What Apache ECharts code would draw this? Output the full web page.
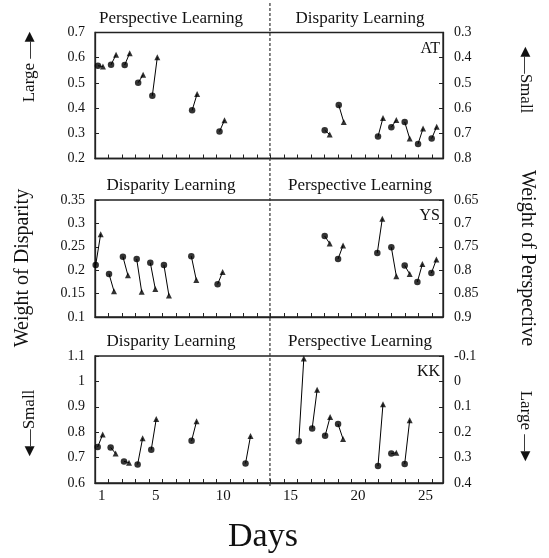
<!DOCTYPE html>
<html><head><meta charset="utf-8">
<script src="https://cdn.jsdelivr.net/npm/echarts@6/dist/echarts.min.js"></script>
<style>html,body{margin:0;padding:0;background:#fff}#c{width:549px;height:558px}</style>
</head><body><div id="c"></div>
<script>
// ---- data (weight of disparity; weight of perspective = 1 - value) ----
const subjects = ['AT', 'YS', 'KK'];
const leftTitles = ['Perspective Learning', 'Disparity Learning', 'Disparity Learning'];
const rightTitles = ['Disparity Learning', 'Perspective Learning', 'Perspective Learning'];

const atDay  = [0.72, 1.69, 2.7, 3.7, 4.75, 7.7, 9.73, 17.53, 18.57, 21.48, 22.47, 23.46, 24.45, 25.46];
const atPre  = [0.568, 0.572, 0.571, 0.501, 0.449, 0.391, 0.307, 0.312, 0.412, 0.287, 0.324, 0.345, 0.258, 0.279];
const atPost = [0.565, 0.612, 0.618, 0.532, 0.602, 0.456, 0.352, 0.295, 0.345, 0.361, 0.353, 0.279, 0.319, 0.326];

const ysDay  = [0.55, 1.54, 2.57, 3.59, 4.6, 5.61, 7.64, 9.59, 17.53, 18.52, 21.43, 22.47, 23.46, 24.4, 25.44];
const ysPre  = [0.211, 0.192, 0.229, 0.224, 0.216, 0.211, 0.230, 0.170, 0.273, 0.224, 0.237, 0.249, 0.210, 0.175, 0.194];
const ysPost = [0.277, 0.155, 0.189, 0.154, 0.160, 0.146, 0.179, 0.196, 0.257, 0.253, 0.310, 0.187, 0.192, 0.213, 0.223];

const kkDay  = [0.7, 1.66, 2.65, 3.66, 4.67, 7.66, 11.66, 15.61, 16.6, 17.56, 18.52, 21.48, 22.47, 23.46];
const kkPre  = [0.742, 0.740, 0.685, 0.673, 0.731, 0.766, 0.677, 0.764, 0.815, 0.786, 0.832, 0.667, 0.716, 0.675];
const kkPost = [0.791, 0.716, 0.680, 0.776, 0.852, 0.843, 0.785, 1.09, 0.967, 0.860, 0.773, 0.910, 0.719, 0.847];

const dayTickLabels = [1, 5, 10, 15, 20, 25];
const dayTicks = [1.5, 2.5, 3.5, 4.5, 5.5, 6.5, 7.5, 8.5, 9.5, 10.5, 11.5, 12.5, 13.5, 14.5, 15.5, 16.5, 17.5, 18.5, 19.5, 20.5, 21.5, 22.5, 23.5, 24.5, 25.5];
const phaseSwitchDay = 13.47;

const leftMin = [0.2, 0.1, 0.6];
const leftMax = [0.7, 0.35, 1.1];
const leftStep = [0.1, 0.05, 0.1];

// ---- layout / style ----
const FONT = '"Liberation Serif", "DejaVu Serif", serif';
const INK = '#111';
const postOffset = 0.37;
const grids = [
  {left: 95, right: 106, top: 32.5, height: 126},
  {left: 95, right: 106, top: 200, height: 117},
  {left: 95, right: 106, top: 356, height: 127}
];
const panels = [
  {day: atDay, pre: atPre, post: atPost},
  {day: ysDay, pre: ysPre, post: ysPost},
  {day: kkDay, pre: kkPre, post: kkPost}
];
const fmt = v => String(+(+v).toFixed(2));

const axisLine = {show: true, onZero: false, lineStyle: {color: '#222', width: 1.3}};
const xAxes = [], yAxes = [], series = [];
panels.forEach((p, i) => {
  xAxes.push({
    gridIndex: i, type: 'value', min: 0.5, max: 26.3,
    axisLine: axisLine, splitLine: {show: false},
    axisTick: {show: true, inside: true, length: 4, customValues: dayTicks, lineStyle: {color: '#222'}},
    axisLabel: {show: i === 2, customValues: dayTickLabels, fontFamily: FONT, fontSize: 15, color: INK, margin: 6}
  });
  yAxes.push({
    gridIndex: i, type: 'value', position: 'left',
    min: leftMin[i], max: leftMax[i], interval: leftStep[i],
    axisLine: axisLine, splitLine: {show: false},
    axisTick: {show: true, inside: true, length: 4, lineStyle: {color: '#222'}},
    axisLabel: {fontFamily: FONT, fontSize: 14, color: INK, margin: 10, formatter: fmt, showMinLabel: true, showMaxLabel: true}
  });
  yAxes.push({
    gridIndex: i, type: 'value', position: 'right', inverse: true,
    min: +(1 - leftMax[i]).toFixed(2), max: +(1 - leftMin[i]).toFixed(2), interval: leftStep[i],
    axisLine: axisLine, splitLine: {show: false},
    axisTick: {show: true, inside: true, length: 4, lineStyle: {color: '#222'}},
    axisLabel: {fontFamily: FONT, fontSize: 14, color: INK, margin: 11, formatter: fmt, showMinLabel: true, showMaxLabel: true}
  });
  series.push({
    type: 'lines', coordinateSystem: 'cartesian2d', xAxisIndex: i, yAxisIndex: 2 * i,
    data: p.day.map((d, k) => ({coords: [[d, p.pre[k]], [d + postOffset, p.post[k]]]})),
    lineStyle: {color: '#000', width: 1, opacity: 1}, z: 2, silent: true
  });
  series.push({
    type: 'scatter', xAxisIndex: i, yAxisIndex: 2 * i, symbol: 'circle', symbolSize: 6.5,
    data: p.day.map((d, k) => [d, p.pre[k]]), itemStyle: {color: '#000'}, z: 3, clip: false, silent: true
  });
  series.push({
    type: 'scatter', xAxisIndex: i, yAxisIndex: 2 * i, symbol: 'triangle', symbolSize: 6,
    data: p.day.map((d, k) => [d + postOffset, p.post[k]]), itemStyle: {color: '#000'}, z: 3, clip: false, silent: true
  });
});

const chart = echarts.init(document.getElementById('c'), null, {renderer: 'canvas'});
chart.setOption({
  animation: false,
  backgroundColor: '#fff',
  grid: grids.map(g => Object.assign({show: true, borderColor: '#222', borderWidth: 1.3, backgroundColor: 'transparent'}, g)),
  xAxis: xAxes, yAxis: yAxes, series: series
});

// texts and the phase-switch line
const gx = chart.convertToPixel({xAxisIndex: 0}, phaseSwitchDay);
const leftCenter = 171, rightCenter = 360;
const txt = (text, x, y, size, rot, align) => ({
  type: 'text', x: x, y: y, rotation: rot || 0, silent: true,
  style: {text: text, fontFamily: FONT, fontSize: size, fill: INK, align: align || 'center', verticalAlign: 'middle'}
});
const arrowTxt = (text, x, y, rot) => ({
  type: 'text', x: x, y: y, rotation: rot, silent: true,
  style: {
    text: text, fontFamily: FONT, fontSize: 17, fill: INK, align: 'center', verticalAlign: 'middle',
    rich: {a: {fontFamily: 'DejaVu Sans', fontSize: 13, fill: INK}, d: {fontFamily: FONT, fontSize: 17, fill: INK}}
  }
});
const g = [];
grids.forEach((gr, i) => {
  g.push(txt(leftTitles[i], leftCenter, gr.top - 14, 17));
  g.push(txt(rightTitles[i], rightCenter, gr.top - 14, 17));
  g.push(txt(subjects[i], 440, gr.top + 16, 16, 0, 'right'));
});
g.push(arrowTxt('{d|Large \u2014}{a|\u25B6}', 30, 67, Math.PI / 2));
g.push(txt('Weight of Disparity', 23, 268, 20, Math.PI / 2));
g.push(arrowTxt('{a|\u25C0}{d|\u2014Small}', 30, 423, Math.PI / 2));
g.push(arrowTxt('{a|\u25C0}{d|\u2014Small}', 525, 80, -Math.PI / 2));
g.push(txt('Weight of Perspective', 527, 258, 20, -Math.PI / 2));
g.push(arrowTxt('{d|Large \u2014}{a|\u25B6}', 525, 426, -Math.PI / 2));
g.push(txt('Days', 263, 537, 34));
g.push({
  type: 'line', silent: true, z: 10,
  shape: {x1: gx, y1: 3, x2: gx, y2: 488},
  style: {stroke: '#333', lineWidth: 1.2, lineDash: [3, 2]}
});
chart.setOption({graphic: g});
</script>
</body></html>
